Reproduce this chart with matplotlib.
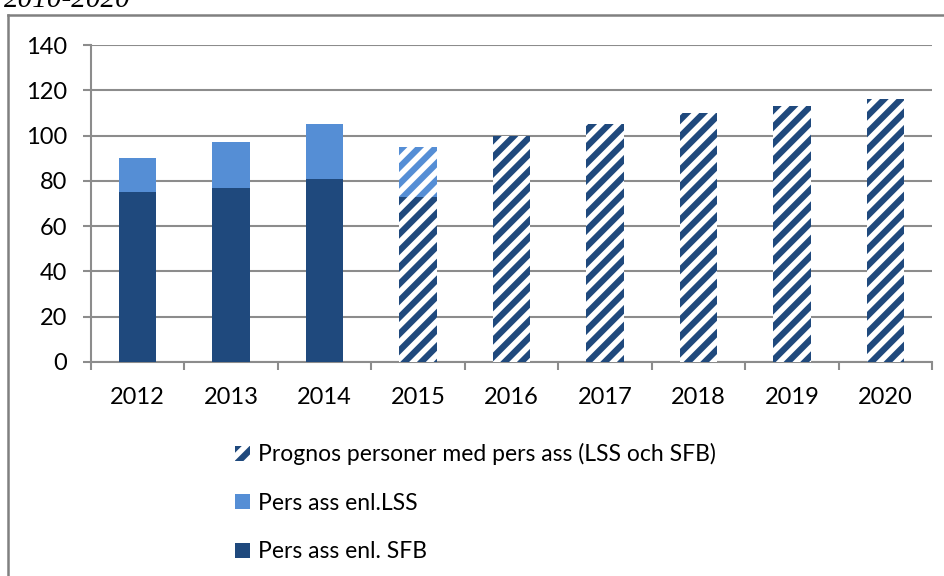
import matplotlib
matplotlib.use("Agg")
import matplotlib.pyplot as plt
from matplotlib.patches import Patch
from matplotlib.lines import Line2D

years = ["2012", "2013", "2014", "2015", "2016", "2017", "2018", "2019", "2020"]
sfb_actual = [75, 77, 81]           # Pers ass enl. SFB (2012-2014)
lss_actual = [15, 20, 24]           # Pers ass enl.LSS (2012-2014)
prog_sfb_2015 = 73                  # prognos 2015, SFB part
prog_lss_2015 = 22                  # prognos 2015, LSS part
prognos = [100, 105, 110, 113, 116] # prognos 2016-2020 totals

DARK = "#1F497D"
LIGHT = "#558ED5"
GRID = "#8C8C8C"

plt.rcParams["font.family"] = ["Lato", "DejaVu Sans"]
plt.rcParams["hatch.linewidth"] = 4.5

fig = plt.figure(figsize=(9.45, 5.76), dpi=100)
ax = fig.add_axes([91/945, 1-362/576, (932-91)/945, (362-45)/576])

x = list(range(len(years)))
w = 0.4
H = "//"
ax.bar(x[:3], sfb_actual, width=w, color=DARK, zorder=3)
ax.bar(x[:3], lss_actual, bottom=sfb_actual, width=w, color=LIGHT, zorder=3)
ax.bar([x[3]], [prog_sfb_2015], width=w, facecolor="white", edgecolor=DARK,
       hatch=H, linewidth=0, zorder=3)
ax.bar([x[3]], [prog_lss_2015], bottom=[prog_sfb_2015], width=w, facecolor="white",
       edgecolor=LIGHT, hatch=H, linewidth=0, zorder=3)
ax.bar(x[4:], prognos, width=w, facecolor="white", edgecolor=DARK,
       hatch=H, linewidth=0, zorder=3)

ax.set_xlim(-0.5, 8.5)
ax.set_ylim(0, 140)
ax.set_yticks(range(0, 141, 20))
ax.yaxis.grid(True, color=GRID, linewidth=1.5, zorder=0)
ax.set_axisbelow(True)

ax.set_xticks([i - 0.5 for i in range(10)])
ax.set_xticklabels([])
ax.set_xticks(x, minor=True)
ax.set_xticklabels(years, minor=True)
ax.tick_params(axis="x", which="minor", length=0, pad=18, labelsize=17)
ax.tick_params(axis="x", which="major", length=6, width=1.5, color=GRID, direction="out")
ax.tick_params(axis="y", length=6, width=1.5, color=GRID, direction="out", pad=11, labelsize=17)

for s in ["top", "right"]:
    ax.spines[s].set_visible(False)
for s in ["left", "bottom"]:
    ax.spines[s].set_color(GRID)
    ax.spines[s].set_linewidth(1.5)

handles = [
    Patch(facecolor="white", edgecolor=DARK, hatch=H, linewidth=0),
    Patch(facecolor=LIGHT, edgecolor=LIGHT, linewidth=0),
    Patch(facecolor=DARK, edgecolor=DARK, linewidth=0),
]
labels = ["Prognos personer med pers ass (LSS och SFB)", "Pers ass enl.LSS", "Pers ass enl. SFB"]
fig.legend(handles, labels, loc="upper left", bbox_to_anchor=(226/945, 1-434/576),
           frameon=False, fontsize=16.5, handlelength=0.65, handleheight=0.65,
           handletextpad=0.35, labelspacing=1.2, borderaxespad=0)

# outer chart frame
fig.add_artist(Line2D([8/945, 8/945], [0, 1-15/576], color="#808080", linewidth=1.8))
fig.add_artist(Line2D([8/945, 1], [1-15/576, 1-15/576], color="#808080", linewidth=1.8))

# cut-off caption above the chart
fig.text(4/945, 1-7/576, "2010-2020", family="Liberation Serif", style="italic",
         fontsize=21, va="baseline", ha="left")

fig.savefig("out.png", dpi=100)
